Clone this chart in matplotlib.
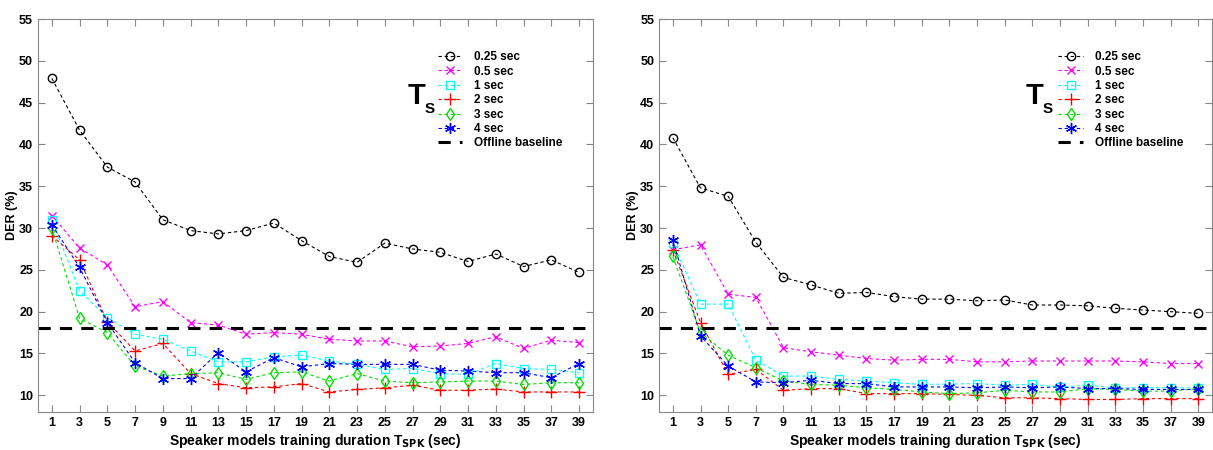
import numpy as np
import matplotlib
matplotlib.use('Agg')
import matplotlib.pyplot as plt

plt.rcParams['font.family'] = ['Liberation Sans Narrow', 'Liberation Sans', 'DejaVu Sans']
plt.rcParams['font.weight'] = 'bold'
plt.rcParams['mathtext.fontset'] = 'custom'
plt.rcParams['mathtext.rm'] = 'Liberation Sans Narrow:bold'
plt.rcParams['mathtext.it'] = 'Liberation Sans Narrow:bold'
plt.rcParams['mathtext.bf'] = 'Liberation Sans Narrow:bold'

# durata di training dei modelli (sec)
t_spk = np.arange(1, 40, 2)
labels = ['0.25 sec', '0.5 sec', '1 sec', '2 sec', '3 sec', '4 sec']
baseline = 18.0

# pannello sinistro
left_025 = [47.9, 41.7, 37.3, 35.5, 31.0, 29.7, 29.3, 29.7, 30.6, 28.5,
            26.6, 25.9, 28.2, 27.5, 27.1, 26.0, 26.9, 25.4, 26.2, 24.7]
left_05 = [31.5, 27.6, 25.6, 20.6, 21.2, 18.7, 18.4, 17.3, 17.5, 17.3,
           16.7, 16.5, 16.5, 15.8, 15.9, 16.2, 17.0, 15.6, 16.6, 16.3]
left_1 = [31.0, 22.5, 19.3, 17.3, 16.7, 15.3, 14.0, 14.0, 14.6, 14.8,
          14.1, 13.7, 13.1, 13.2, 12.6, 12.5, 13.8, 13.2, 13.1, 12.7]
left_2 = [29.1, 26.2, 18.8, 15.3, 16.2, 12.6, 11.4, 10.9, 11.0, 11.4,
          10.4, 10.7, 10.9, 11.2, 10.6, 10.6, 10.75, 10.4, 10.4, 10.4]
left_3 = [30.0, 19.2, 17.5, 13.5, 12.3, 12.6, 12.7, 11.9, 12.7, 12.8,
          11.7, 12.6, 11.7, 11.5, 11.6, 11.7, 11.7, 11.3, 11.5, 11.5]
left_4 = [30.4, 25.3, 18.7, 13.9, 12.0, 12.0, 15.1, 12.8, 14.5, 13.4,
          13.8, 13.7, 13.7, 13.7, 13.0, 12.9, 12.7, 12.7, 12.1, 13.8]

# pannello destro
right_025 = [40.8, 34.8, 33.8, 28.3, 24.1, 23.2, 22.2, 22.3, 21.8, 21.5,
             21.5, 21.3, 21.4, 20.8, 20.8, 20.7, 20.4, 20.2, 20.0, 19.8]
right_05 = [27.4, 28.0, 22.1, 21.7, 15.7, 15.2, 14.8, 14.4, 14.2, 14.3,
            14.3, 14.0, 14.0, 14.1, 14.1, 14.1, 14.1, 14.0, 13.8, 13.8]
right_1 = [28.2, 20.9, 20.9, 14.2, 12.3, 12.3, 11.9, 11.7, 11.5, 11.3,
           11.35, 11.4, 11.2, 11.3, 11.0, 11.2, 10.9, 10.9, 10.9, 10.9]
right_2 = [27.4, 18.7, 12.5, 13.1, 10.6, 10.8, 10.8, 10.2, 10.2, 10.2,
           10.1, 10.0, 9.7, 9.7, 9.6, 9.5, 9.5, 9.6, 9.6, 9.6]
right_3 = [26.6, 17.5, 14.8, 13.3, 11.7, 11.3, 11.2, 10.9, 10.7, 10.4,
           10.2, 10.3, 10.6, 10.4, 10.4, 10.8, 10.7, 10.5, 10.5, 10.8]
right_4 = [28.6, 17.1, 13.5, 11.6, 11.5, 11.8, 11.4, 11.4, 11.0, 11.0,
           11.0, 10.9, 11.0, 10.9, 11.0, 10.8, 10.8, 10.7, 10.7, 10.7]

left_series = [left_025, left_05, left_1, left_2, left_3, left_4]
right_series = [right_025, right_05, right_1, right_2, right_3, right_4]

colors = ['black', 'magenta', 'cyan', 'red', '#00e000', 'blue']
markers = ['o', 'x', 's', '+', 'd', (6, 2, 0)]
msizes = [6, 6, 5.5, 9, 6, 8]

fig = plt.figure(figsize=(12.13, 4.5), dpi=100)
ax1 = fig.add_axes([0.0313, 0.0844, 0.4575, 0.8733])
ax2 = fig.add_axes([0.5433, 0.0844, 0.456, 0.8733])

def draw(ax, series, ts_x, leg_x):
    for s, c, m, ms, lab in zip(series, colors, markers, msizes, labels):
        ax.plot(t_spk, s, linestyle='--', dashes=(3, 2.5), linewidth=0.8,
                color=c, marker=m, markersize=ms, markerfacecolor='none',
                markeredgewidth=1.0, label=lab)
    ax.axhline(baseline, color='black', linestyle='--', dashes=(4, 3),
               linewidth=2.2, label='Offline baseline')
    ax.set_xlim(0, 40)
    ax.set_ylim(8, 55)
    ax.set_xticks(t_spk)
    ax.set_yticks(np.arange(10, 56, 5))
    ax.tick_params(direction='in', top=True, right=True, length=5,
                   color='#888888', labelsize=9)
    for sp in ax.spines.values():
        sp.set_color('#888888')
    ax.set_ylabel('DER (%)', fontsize=9, fontweight='bold', labelpad=1)
    ax.set_xlabel(r'Speaker models training duration T$_{\mathrm{SPK}}$ (sec)',
                  fontsize=10, fontweight='bold', labelpad=2)
    leg = ax.legend(loc='upper left', bbox_to_anchor=(leg_x, 0.918), frameon=False,
                    fontsize=8.5, handlelength=2.1, handletextpad=1.0,
                    labelspacing=0.2, borderpad=0, borderaxespad=0)
    for t in leg.get_texts():
        t.set_fontweight('bold')
    # etichetta T_S accanto alla legenda
    ax.text(ts_x, 0.785, 'T', transform=ax.transAxes, fontsize=21, fontweight='bold')
    ax.text(ts_x + 0.031, 0.762, 'S', transform=ax.transAxes, fontsize=11, fontweight='bold')

draw(ax1, left_series, 0.666, 0.72)
draw(ax2, right_series, 0.662, 0.7215)

fig.savefig('out.png', dpi=100)
